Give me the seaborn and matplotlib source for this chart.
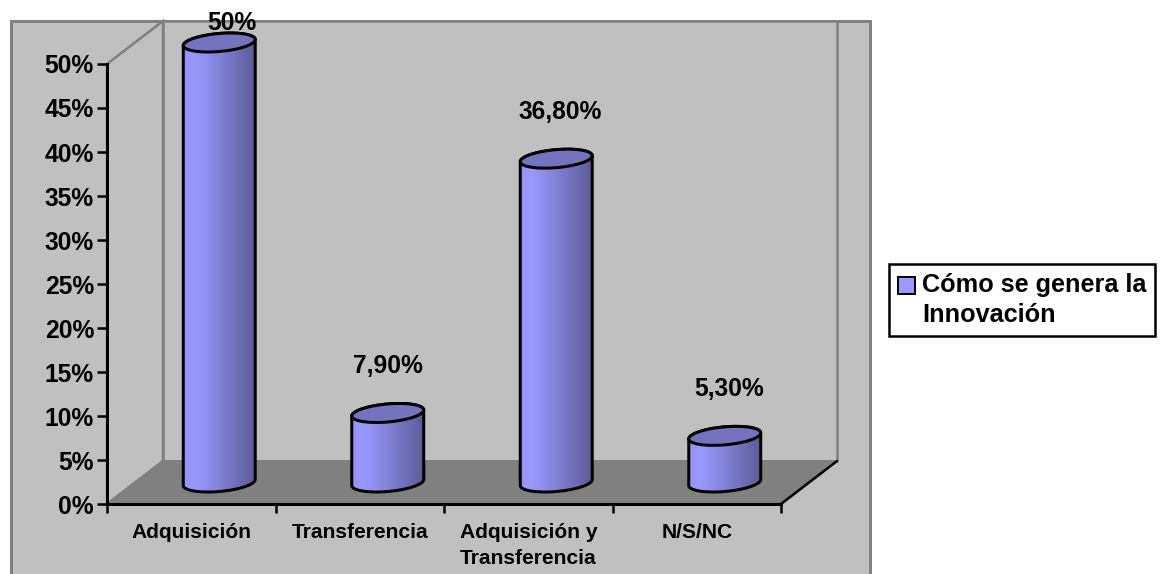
import numpy as np
import pandas as pd
import matplotlib
matplotlib.use("Agg")
import matplotlib.pyplot as plt
import seaborn as sns
from matplotlib.colors import LinearSegmentedColormap
from matplotlib.patches import Patch, Polygon, Rectangle
from matplotlib.transforms import Affine2D, IdentityTransform

# data
categories = ["Adquisición", "Transferencia", "Adquisición y\nTransferencia", "N/S/NC"]
values = [50, 7.9, 36.8, 5.3]
value_labels = ["50%", "7,90%", "36,80%", "5,30%"]
y_ticks = [0, 5, 10, 15, 20, 25, 30, 35, 40, 45, 50]
series_name = "Cómo se genera la\nInnovación"

# look
WALL = "#C0C0C0"
EDGE = "#808080"
BAR = "#9999FF"
TOP = "#7373BF"
DPI = 100
W, H = 1161, 574
DEPTH_X, DEPTH_Y = 56, 43  # 3d wall offset, px
label_dx = [13, 0, 4, 4]  # sideways nudge of the value labels, px


def px(size):
    return size * 72 / DPI


sns.set_style("white")
plt.rcParams["font.family"] = ["Liberation Sans", "DejaVu Sans"]
plt.rcParams["font.weight"] = "bold"
plt.rcParams["text.color"] = "black"
plt.rcParams["xtick.labelcolor"] = "black"
plt.rcParams["ytick.labelcolor"] = "black"

fig = plt.figure(figsize=(W / DPI, H / DPI), dpi=DPI)
# chart area, runs off the bottom of the picture
fig.add_artist(Rectangle((11, -10), 858.5, 574 - 21 + 10, transform=IdentityTransform(),
                         facecolor=WALL, edgecolor=EDGE, linewidth=px(3), zorder=-5))

ax = fig.add_axes([107 / W, (H - 504) / H, 674 / W, 440 / H])
ax.patch.set_visible(False)

df = pd.DataFrame({"cat": categories, "val": values})
sns.barplot(data=df, x="cat", y="val", color=BAR, saturation=1, width=0.427, ax=ax, zorder=3)
bars = list(ax.patches)
ax.set_xlim(-0.5, 3.5)
ax.set_ylim(0, 50)
ax.set_autoscale_on(False)
ax.set_xlabel("")
ax.set_ylabel("")

# 3d box
to_px = ax.transData.transform
x0, y0 = to_px((-0.5, 0))
x1, y1 = to_px((3.5, 50))
back = [(x0 + DEPTH_X, y0 + DEPTH_Y), (x1 + DEPTH_X, y0 + DEPTH_Y),
        (x1 + DEPTH_X, y1 + DEPTH_Y), (x0 + DEPTH_X, y1 + DEPTH_Y)]
ident = IdentityTransform()
ax.add_patch(Polygon(back, closed=True, facecolor=WALL, edgecolor=EDGE, linewidth=px(2.5),
                     transform=ident, clip_on=False, zorder=0))
ax.add_patch(Polygon([(x0, y0), back[0], back[3], (x0, y1)], closed=True, facecolor=WALL,
                     edgecolor=EDGE, linewidth=px(2.5), transform=ident, clip_on=False, zorder=0.5))
ax.add_patch(Polygon([(x0, y0), (x1, y0), back[1], back[0]], closed=True, facecolor=EDGE,
                     edgecolor=EDGE, linewidth=px(2), transform=ident, clip_on=False, zorder=1))
ax.plot([x1, back[1][0]], [y0, back[1][1]], color="black", lw=px(2.5), transform=ident,
        clip_on=False, zorder=1.5)

# cylinders
shade = LinearSegmentedColormap.from_list(
    "cyl", [(0, "#9494F8"), (0.15, BAR), (0.45, "#8686DE"), (0.75, "#6F6FB8"), (1, "#5C5C99")])
shift = Affine2D().translate(DEPTH_X / 2, DEPTH_Y / 2)
strip = np.linspace(0, 1, 72).reshape(1, -1)
t = np.linspace(0, 2 * np.pi, 120)

for bar, lab, dx in zip(bars, value_labels, label_dx):
    bar.set_transform(ax.transData + shift)
    bar.set_clip_on(False)
    bar.set_edgecolor("none")
    left, right = bar.get_x(), bar.get_x() + bar.get_width()
    height = bar.get_height()
    (xa, ya), (xb, yb) = (ax.transData + shift).transform([(left, 0), (right, height)])
    cx, a = (xa + xb) / 2, (xb - xa) / 2
    tilt, b = 3, 9

    def ring(cy, s):
        return np.column_stack([cx + a * np.cos(s), cy + b * np.sin(s) + tilt * np.cos(s)])

    lower = ring(ya, np.linspace(np.pi, 2 * np.pi, 60))
    upper = ring(yb, np.linspace(0, np.pi, 60))
    body = np.vstack([lower, upper])
    img = ax.imshow(strip, cmap=shade, extent=(left, right, -5, height + 5), aspect="auto",
                    transform=ax.transData + shift, zorder=3.1)
    img.set_clip_box(fig.bbox)
    img.set_clip_path(Polygon(body, closed=True, transform=ident))
    ax.add_patch(Polygon(body, closed=True, fill=False, edgecolor="black", linewidth=px(3),
                         transform=ident, clip_on=False, zorder=3.2))
    ax.add_patch(Polygon(ring(yb, t), closed=True, facecolor=TOP, edgecolor="black",
                         linewidth=px(3), transform=ident, clip_on=False, zorder=3.3))
    # value label sits above the cap, stops at the top of the box
    ax.text(cx + dx, min(yb + 47, H - 23), lab, transform=ident, ha="center", va="center",
            fontsize=px(24.6), fontweight="bold", color="black", zorder=5, clip_on=False)

# axes
for side in ["top", "right"]:
    ax.spines[side].set_visible(False)
for side in ["left", "bottom"]:
    ax.spines[side].set_linewidth(px(3))
    ax.spines[side].set_color("black")
    ax.spines[side].set_zorder(4)

ax.set_yticks(y_ticks)
ax.set_yticklabels([f"{v}%" for v in y_ticks], fontsize=px(24.6), fontweight="bold", color="black")
ax.tick_params(axis="y", left=True, length=px(10), width=px(2.5), pad=px(3), color="black")
ax.set_xticks(range(len(categories)))
ax.set_xticklabels(categories, fontsize=px(21), fontweight="bold", linespacing=1.45, color="black")
ax.set_xticks(np.arange(-0.5, 4), minor=True)
ax.tick_params(axis="x", which="major", bottom=False, length=0, pad=px(19))
ax.tick_params(axis="x", which="minor", bottom=True, length=px(9), width=px(2.5), color="black")

# legend
handle = Patch(facecolor=BAR, edgecolor="black", linewidth=px(2))
leg = ax.legend(handles=[handle], labels=[series_name], loc="center left",
                bbox_to_anchor=(889 / W, (H - 300) / H), bbox_transform=fig.transFigure,
                prop={"size": px(25.2), "weight": "bold"}, fancybox=False, framealpha=1,
                edgecolor="black", borderpad=0.36, borderaxespad=0, handlelength=0.68,
                handleheight=0.68, handletextpad=0.26, labelspacing=0)
leg.get_frame().set_linewidth(px(2.5))
leg.set_zorder(6)
for txt in leg.get_texts():
    txt.set_linespacing(1.3)
    txt.set_color("black")
# swatch goes beside the first line
swatch = leg.legend_handles[0]
swatch.set_y(swatch.get_y() + px(15))

fig.savefig("out.png", dpi=DPI)
